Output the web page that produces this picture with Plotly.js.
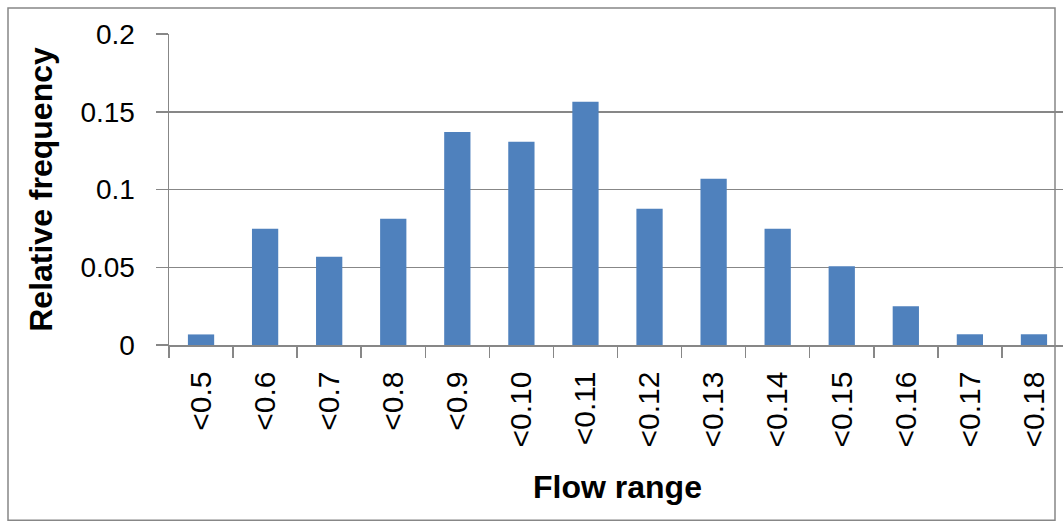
<!DOCTYPE html>
<html>
<head>
<meta charset="utf-8">
<script src="https://cdn.plot.ly/plotly-3.0.1.min.js"></script>
<style>
  html, body { margin: 0; padding: 0; overflow: hidden; background: #ffffff; }
  #chart { width: 1075px; height: 523px; }
</style>
</head>
<body>
<div id="chart"></div>
<script>
// Data
const categories = ["<0.5", "<0.6", "<0.7", "<0.8", "<0.9", "<0.10", "<0.11",
                    "<0.12", "<0.13", "<0.14", "<0.15", "<0.16", "<0.17", "<0.18"];
const relativeFrequency = [0.0068, 0.0748, 0.0568, 0.0812, 0.137, 0.1307, 0.1564,
                           0.0877, 0.1069, 0.0748, 0.0506, 0.0250, 0.0069, 0.0069];
const yTickValues = [0, 0.05, 0.1, 0.15, 0.2];
const yTickLabels = ["0", "0.05", "0.1", "0.15", "0.2"];

const W = 1075, H = 523;
const m = { l: 169, r: W - 1066, t: 34, b: 523 - 345.5 };
const pw = W - m.l - m.r, ph = H - m.t - m.b;
// outer chart border in pixels -> paper coords
const bx0 = (8 - m.l) / pw, bx1 = (1055 - m.l) / pw;
const by0 = (H - m.b - 521) / ph, by1 = (H - m.b - 8) / ph;

const gray = "#878787";
const font = "Liberation Sans, Arial, sans-serif";

const trace = {
  type: "bar",
  x: categories,
  y: relativeFrequency,
  marker: { color: "#4F81BD", line: { width: 0 } },
  hoverinfo: "x+y"
};

const layout = {
  width: W,
  height: H,
  margin: m,
  paper_bgcolor: "#ffffff",
  plot_bgcolor: "#ffffff",
  showlegend: false,
  bargap: 0.59,
  font: { family: font, color: "#000000" },
  xaxis: {
    type: "category",
    tickson: "boundaries",
    ticks: "outside",
    ticklen: 11,
    tickwidth: 1.5,
    tickcolor: gray,
    showline: true,
    linecolor: gray,
    linewidth: 1.5,
    showgrid: false,
    zeroline: false,
    tickangle: -90,
    ticklabelstandoff: 13,
    tickfont: { family: font, size: 30, color: "#000000" },
    title: { text: "<b>Flow range</b>", font: { family: font, size: 32, color: "#000000" }, standoff: 29 },
    fixedrange: true
  },
  yaxis: {
    range: [0, 0.2],
    tickvals: yTickValues,
    ticktext: yTickLabels,
    ticks: "outside",
    ticklen: 12,
    tickwidth: 1.5,
    tickcolor: gray,
    showline: true,
    linecolor: gray,
    linewidth: 1.5,
    showgrid: true,
    gridcolor: gray,
    gridwidth: 1.5,
    zeroline: false,
    ticklabelstandoff: 15,
    tickfont: { family: font, size: 28, color: "#000000" },
    title: { text: "<b>Relative frequency</b>", font: { family: font, size: 32, color: "#000000" }, standoff: 18 },
    fixedrange: true
  },
  shapes: [{
    type: "rect", xref: "paper", yref: "paper",
    x0: bx0, x1: bx1, y0: by0, y1: by1,
    line: { color: gray, width: 1.5 },
    fillcolor: "rgba(0,0,0,0)",
    layer: "above"
  }]
};

Plotly.newPlot("chart", [trace], layout, { displayModeBar: false, staticPlot: true });
</script>
</body>
</html>
